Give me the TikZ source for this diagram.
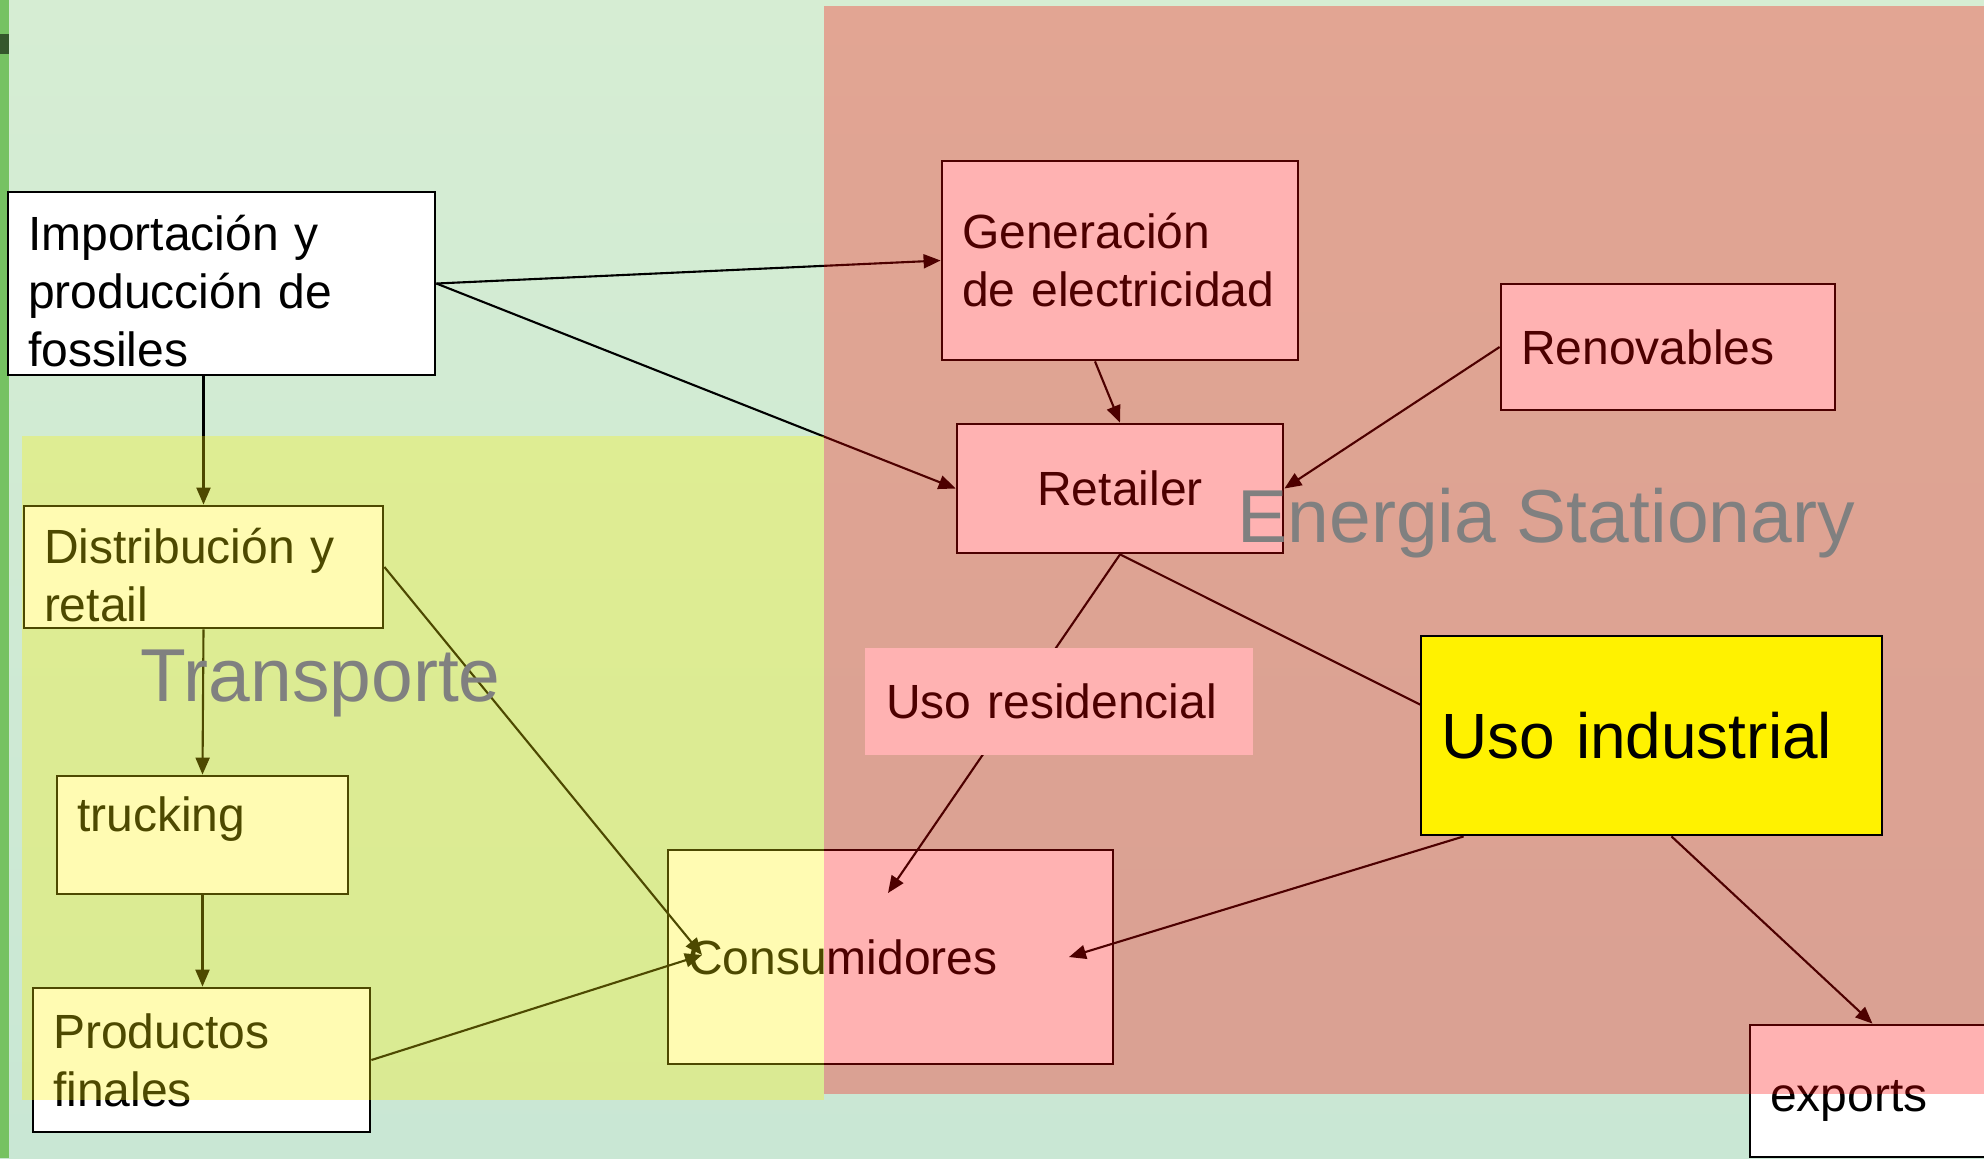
\documentclass[tikz,border=0pt]{standalone}
\usepackage{fontspec}
\setmainfont{Liberation Sans}
\usetikzlibrary{arrows.meta}
\usetikzlibrary{calc}

\definecolor{fondo}{RGB}{214,237,211}
\definecolor{fondobajo}{RGB}{201,231,212}
\definecolor{franja}{RGB}{118,194,98}
\definecolor{rotulogris}{RGB}{128,128,128}

\pgfdeclarelayer{fondo}
\pgfdeclarelayer{tinte}
\pgfdeclarelayer{frente}
\pgfsetlayers{fondo,main,tinte,frente}

\tikzset{
  caja/.style={draw=black, line width=0.8pt, fill=white, text=black, shape=rectangle, align=left, inner xsep=2mm, inner ysep=0pt, font=\fontsize{13.66pt}{16.5pt}\selectfont},
  flecha/.style={line width=0.6pt, -{Triangle[length=1.7mm, width=1.4mm]}},
  rotulo/.style={text=rotulogris, inner sep=0pt, font=\fontsize{21.34pt}{25pt}\selectfont}
}

\begin{document}
\begin{tikzpicture}[x=0.1mm, y=-0.1mm]

\useasboundingbox (0, 0) rectangle (1984, 1158);

\begin{pgfonlayer}{fondo}
\shade[top color=fondo, bottom color=fondobajo] (0, 0) rectangle (1984, 1158);
\fill[franja] (0, 0) rectangle (9, 1158);
\fill[black!55!franja] (0, 34) rectangle (9, 54);
\end{pgfonlayer}

\node[caja, minimum width=42.7mm, minimum height=18.3mm, text width=38.7mm, text height=5.1mm] (fosiles) at (221.5, 283.5) {Importación y\\producción de\\fossiles};
\node[caja, minimum width=35.6mm, minimum height=19.9mm, text width=31.6mm] (generacion) at (1120, 260.5) {Generación\\de electricidad};
\node[caja, minimum width=33.4mm, minimum height=12.6mm, text width=29.4mm] (renovables) at (1668, 347) {Renovables};
\node[caja, align=center, minimum width=32.6mm, minimum height=12.9mm, text width=28.6mm] (retailer) at (1120, 488.5) {Retailer};
\node[caja, minimum width=35.9mm, minimum height=12.2mm, text width=31.9mm, text height=5.1mm] (distribucion) at (203.5, 567) {Distribución y\\retail};
\node[caja, minimum width=29.1mm, minimum height=11.8mm, text width=25.1mm, text height=3.5mm, text depth=4.3mm] (trucking) at (202.5, 835) {trucking};
\node[caja, minimum width=33.7mm, minimum height=14.4mm, text width=29.7mm] (productos) at (201.5, 1060) {Productos\\finales};
\node[caja, minimum width=44.5mm, minimum height=21.4mm, text width=40.5mm] (consumidores) at (890.5, 957) {Consumidores};
\node[caja, minimum width=24.5mm, minimum height=13.2mm, text width=20.5mm, text height=5.1mm] (exports) at (1872.5, 1091) {exports};

\begin{pgfonlayer}{frente}
\node[caja, fill=yellow, minimum width=46.1mm, minimum height=19.9mm, text width=42.1mm, font=\fontsize{18.2pt}{22pt}\selectfont] (industrial) at (1651.5, 735.5) {Uso industrial};
\end{pgfonlayer}

\coordinate (puntaA) at (702, 955);
\coordinate (puntaB) at (888, 893);
\coordinate (puntaC) at (1069, 957);
\coordinate (llegaIndustrial) at (1421, 705);

\draw[flecha] (fosiles.east) -- (generacion.west);
\draw[flecha] (fosiles.east) -- (retailer.west);
\draw[flecha] (fosiles.south -| distribucion.north) -- (distribucion.north);
\draw[flecha] (distribucion.south) -- (trucking.north);
\draw[flecha] (trucking.south) -- (trucking.south |- productos.north);
\draw[flecha] (distribucion.east) -- (puntaA);
\draw[flecha] (productos.east) -- (puntaA);
\draw[flecha] ($(generacion.south)+(-25, 0)$) -- (retailer.north);
\draw[flecha] (renovables.west) -- (retailer.east);
\draw[flecha] (retailer.south) -- (puntaB);
\draw[line width=0.6pt] (retailer.south) -- (llegaIndustrial);
\draw[flecha] ($(industrial.south west)+(44, 0)$) -- (puntaC);
\draw[flecha] ($(industrial.south)+(20, 0)$) -- (exports.north);

\node[caja, draw=none, minimum width=38.8mm, minimum height=10.7mm, text width=34.6mm] (residencial) at (1059, 701.5) {Uso residencial};

\begin{pgfonlayer}{tinte}
\fill[red, opacity=0.3] (824, 6) rectangle (1990, 1094);
\fill[yellow, opacity=0.3] (22, 436) rectangle (824, 1100);
\end{pgfonlayer}

\begin{pgfonlayer}{frente}
\node[rotulo, anchor=base west] (transporte) at (140, 701) {Transporte};
\node[rotulo, anchor=base west] (estacionaria) at (1237, 542) {Energia Stationary};
\end{pgfonlayer}

\end{tikzpicture}
\end{document}
